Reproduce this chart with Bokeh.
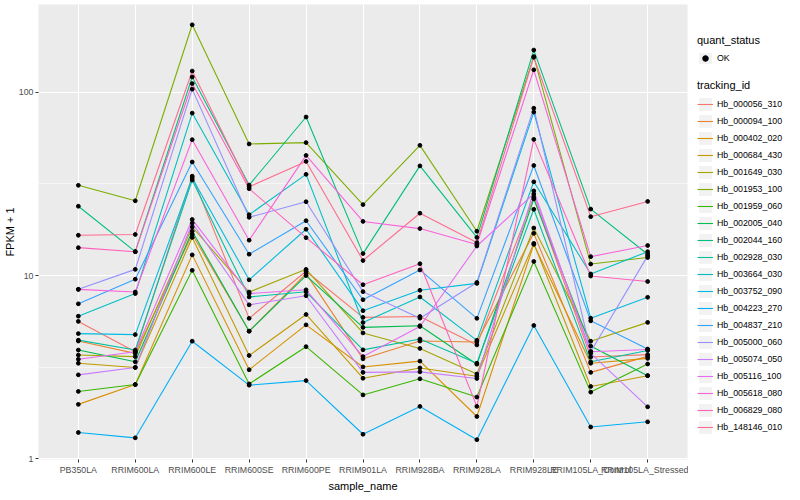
from bokeh.plotting import figure
from bokeh.layouts import row
from bokeh.models import (FactorRange, Range1d, FixedTicker, BasicTickFormatter,
                          Legend, LegendItem)
from bokeh.embed import file_html
from bokeh.resources import INLINE

samples = ["PB350LA", "RRIM600LA", "RRIM600LE", "RRIM600SE", "RRIM600PE",
           "RRIM901LA", "RRIM928BA", "RRIM928LA", "RRIM928LE",
           "RRIM105LA_Control", "RRIM105LA_Stressed"]

tracking_ids = ["Hb_000056_310", "Hb_000094_100", "Hb_000402_020", "Hb_000684_430",
                "Hb_001649_030", "Hb_001953_100", "Hb_001959_060", "Hb_002005_040",
                "Hb_002044_160", "Hb_002928_030", "Hb_003664_030", "Hb_003752_090",
                "Hb_004223_270", "Hb_004837_210", "Hb_005000_060", "Hb_005074_050",
                "Hb_005116_100", "Hb_005618_080", "Hb_006829_080", "Hb_148146_010"]

# FPKM + 1 per sample (order of `samples`)
hb_000056_310 = [5.62, 3.84, 34.9, 5.84, 10.55, 5.91, 5.98, 4.18, 26.9, 3.59, 3.70]
hb_000094_100 = [4.39, 3.76, 16.8, 4.97, 10.25, 3.51, 4.39, 4.34, 17.0, 2.96, 3.62]
hb_000402_020 = [1.98, 2.54, 12.97, 3.06, 5.38, 3.17, 3.41, 1.70, 14.8, 3.32, 3.53]
hb_000684_430 = [3.32, 3.15, 16.15, 3.66, 6.13, 2.75, 3.13, 2.82, 14.99, 2.48, 2.84]
hb_001649_030 = [3.68, 3.61, 18.41, 8.13, 10.81, 4.86, 4.00, 2.90, 18.18, 4.38, 5.55]
hb_001953_100 = [31.1, 25.6, 234.0, 52.3, 53.2, 24.4, 51.4, 17.46, 156.8, 11.56, 12.54]
hb_001959_060 = [2.33, 2.54, 10.68, 2.56, 4.09, 2.23, 2.73, 2.17, 11.94, 2.31, 3.29]
hb_002005_040 = [3.92, 3.38, 17.46, 4.97, 10.0, 5.21, 5.32, 3.28, 26.2, 4.12, 2.84]
hb_002044_160 = [23.9, 13.5, 121.4, 31.2, 73.4, 13.18, 39.7, 16.15, 170.3, 23.06, 13.08]
hb_002928_030 = [4.44, 3.92, 33.2, 7.64, 8.15, 3.93, 4.50, 3.32, 23.0, 3.38, 3.90]
hb_003664_030 = [6.00, 7.97, 77.1, 21.5, 35.7, 5.54, 7.64, 4.43, 32.5, 10.2, 13.5]
hb_003752_090 = [4.82, 4.76, 34.1, 9.48, 17.9, 6.43, 8.31, 9.06, 78.1, 5.85, 7.61]
hb_004223_270 = [1.39, 1.30, 4.38, 2.52, 2.67, 1.36, 1.93, 1.27, 5.34, 1.49, 1.59]
hb_004837_210 = [7.01, 9.55, 41.7, 13.08, 19.93, 7.38, 10.73, 5.84, 39.9, 5.66, 3.97]
hb_005000_060 = [8.41, 10.81, 104.2, 20.8, 25.3, 8.17, 5.85, 9.17, 82.0, 3.84, 12.81]
hb_005074_050 = [2.87, 3.15, 19.35, 6.92, 7.76, 2.96, 2.98, 2.74, 29.0, 3.76, 1.92]
hb_005116_100 = [3.49, 3.84, 20.25, 7.97, 8.36, 3.61, 5.27, 14.5, 27.9, 3.84, 3.95]
hb_005618_080 = [8.41, 8.13, 55.2, 15.6, 45.3, 19.75, 18.05, 14.77, 132.9, 12.68, 14.59]
hb_006829_080 = [14.2, 13.5, 111.8, 29.8, 16.1, 8.91, 11.6, 1.93, 55.4, 9.94, 9.28]
hb_148146_010 = [16.6, 16.76, 130.8, 30.5, 42.0, 12.08, 21.9, 15.14, 155.6, 20.97, 25.4]

series = [hb_000056_310, hb_000094_100, hb_000402_020, hb_000684_430, hb_001649_030,
          hb_001953_100, hb_001959_060, hb_002005_040, hb_002044_160, hb_002928_030,
          hb_003664_030, hb_003752_090, hb_004223_270, hb_004837_210, hb_005000_060,
          hb_005074_050, hb_005116_100, hb_005618_080, hb_006829_080, hb_148146_010]

quant_status = ["OK"]

colors = ["#F8766D", "#EA8331", "#D89000", "#C09B00", "#A3A500", "#7CAE00", "#39B600",
          "#00BB4E", "#00BF7D", "#00C1A3", "#00BFC4", "#00BAE0", "#00B0F6", "#35A2FF",
          "#9590FF", "#C77CFF", "#E76BF3", "#FA62DB", "#FF62BC", "#FF6C91"]

FONT = "Liberation Sans"
H = 494
NAN = float("nan")

p = figure(width=688, height=H,
           x_range=FactorRange(factors=samples, range_padding=0.2,
                               range_padding_units="absolute"),
           y_range=Range1d(0.99, 302), y_axis_type="log",
           output_backend="svg", toolbar_location=None,
           min_border_left=34, min_border_right=1, min_border_top=4,
           min_border_bottom=0,
           background_fill_color="#EBEBEB", border_fill_color="white",
           outline_line_color=None)

for vals, col in zip(series, colors):
    p.line(x=samples, y=vals, line_color=col, line_width=1.1)

px = [s for _ in series for s in samples]
py = [v for vals in series for v in vals]
p.scatter(x=px, y=py, size=3.8, fill_color="black", line_color="black")

# axes
p.yaxis.ticker = FixedTicker(ticks=[1, 10, 100], minor_ticks=[10 ** 0.5, 10 ** 1.5])
p.yaxis.formatter = BasicTickFormatter(use_scientific=False)
p.yaxis.axis_label = "FPKM + 1"
p.xaxis.axis_label = "sample_name"
for ax in p.axis:
    ax.axis_line_color = None
    ax.major_tick_line_color = "#333333"
    ax.major_tick_in = 0
    ax.major_tick_out = 3
    ax.minor_tick_line_color = None
    ax.major_label_text_font = FONT
    ax.major_label_text_font_size = "8.8px"
    ax.major_label_text_color = "#4D4D4D"
    ax.major_label_standoff = 2
    ax.axis_label_text_font = FONT
    ax.axis_label_text_font_size = "11px"
    ax.axis_label_text_font_style = "normal"
    ax.axis_label_text_color = "black"
    ax.axis_label_standoff = 2
p.yaxis.axis_label_standoff = 0
p.yaxis.major_label_standoff = 1

p.xgrid.grid_line_color = "white"
p.xgrid.grid_line_width = 1.1
p.ygrid.grid_line_color = "white"
p.ygrid.grid_line_width = 1.1
p.ygrid.minor_grid_line_color = "white"
p.ygrid.minor_grid_line_width = 0.55

# legend panel
lp = figure(width=96, height=H, x_range=Range1d(0, 1), y_range=Range1d(0, 1),
            output_backend="svg", toolbar_location=None,
            x_axis_location=None, y_axis_location=None,
            min_border=0, outline_line_color=None,
            background_fill_color="white", border_fill_color="white")
lp.grid.visible = False

# legend proxies (no visible marks)
key_bg = lp.quad(left=[NAN], right=[NAN], top=[NAN], bottom=[NAN],
                 fill_color="#F2F2F2", line_color=None)
key_pt = lp.scatter(x=[NAN], y=[NAN], size=3.8, fill_color="black", line_color="black")
key_lines = [lp.line(x=[NAN], y=[NAN], line_color=col, line_width=1.1) for col in colors]


def style_legend(lg):
    lg.title_text_font = FONT
    lg.title_text_font_size = "11px"
    lg.title_text_font_style = "normal"
    lg.title_text_color = "black"
    lg.title_standoff = 5
    lg.label_text_font = FONT
    lg.label_text_font_size = "8.8px"
    lg.label_text_color = "black"
    lg.label_standoff = 4
    lg.label_height = 16
    lg.glyph_width = 16
    lg.glyph_height = 16
    lg.spacing = 1
    lg.padding = 0
    lg.margin = 0
    lg.border_line_color = None
    lg.background_fill_alpha = 0


quant_legend = Legend(items=[LegendItem(label=q, renderers=[key_bg, key_pt]) for q in quant_status],
                      title="quant_status", location=(9, 394))
style_legend(quant_legend)
quant_legend.glyph_height = 14
quant_legend.label_height = 14

track_legend = Legend(items=[LegendItem(label=t, renderers=[key_bg, r])
                             for t, r in zip(tracking_ids, key_lines)],
                      title="tracking_id", location=(9, 24))
style_legend(track_legend)

lp.add_layout(quant_legend)
lp.add_layout(track_legend)

layout = row(p, lp)
open("out.html", "w").write(file_html(layout, INLINE))
